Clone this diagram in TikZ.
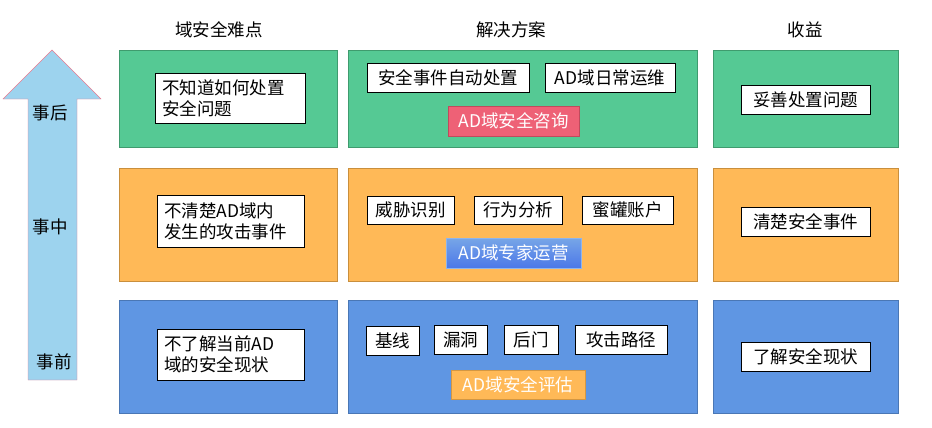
\documentclass[tikz,border=0pt]{standalone}
\usepackage{fontspec}
\setmainfont{Noto Sans CJK SC}
\definecolor{gruen}{HTML}{55C994}
\definecolor{gruenrand}{HTML}{3F9B6E}
\definecolor{orange}{HTML}{FFB957}
\definecolor{orangerand}{HTML}{C98F3D}
\definecolor{blau}{HTML}{5F96E3}
\definecolor{blaurand}{HTML}{4A77B5}
\definecolor{pfeil}{HTML}{9DD3EE}
\definecolor{pfeilrand}{HTML}{E87A8F}
\definecolor{rot}{HTML}{EE6176}
\definecolor{rotrand}{HTML}{C04A5C}
\begin{document}
\begin{tikzpicture}[x=1pt, y=-1pt,
	schrift/.style={font=\fontsize{17.5}{21}\selectfont},
	feld/.style={draw, inner sep=0pt},
	kasten/.style={schrift, draw=black, fill=white, inner sep=0pt},
	marke/.style={schrift, text=white, inner sep=0pt}]
		\useasboundingbox (0,0) rectangle (932,428);
		% Pfeil
		\draw[pfeilrand, fill=pfeil] (52,50) -- (101,99) -- (77,99) -- (77,380)
			-- (28,380) -- (28,99) -- (3,99) -- cycle;
		\node[schrift] (nach) at (50,113) {事后};
		\node[schrift] (waehrend) at (50,227) {事中};
		\node[schrift] (vor) at (54,362) {事前};
		% Kopfzeile
		\node[schrift] (schwierig) at (219,30) {域安全难点};
		\node[schrift] (loesung) at (511,30) {解决方案};
		\node[schrift] (nutzen) at (805,30) {收益};
		% Zeile 1
		\node[feld, draw=gruenrand, fill=gruen, minimum width=218, minimum height=97] (s1) at (228,98.5) {};
		\node[feld, draw=gruenrand, fill=gruen, minimum width=349, minimum height=97] (l1) at (522.5,98.5) {};
		\node[feld, draw=gruenrand, fill=gruen, minimum width=185, minimum height=97] (n1) at (805.5,98.5) {};
		\node[kasten, minimum width=150, minimum height=50, text width=136, align=left] (s1a) at (230,98) {不知道如何处置\\安全问题};
		\node[kasten, minimum width=162, minimum height=29] (l1a) at (448,77.5) {安全事件自动处置};
		\node[kasten, minimum width=130, minimum height=29] (l1b) at (610,77.5) {AD域日常运维};
		\node[marke, draw=rotrand, fill=rot, minimum width=131, minimum height=30] (l1c) at (513.5,121) {AD域安全咨询};
		\node[kasten, minimum width=129, minimum height=29] (n1a) at (805.5,99.5) {妥善处置问题};
		% Zeile 2
		\node[feld, draw=orangerand, fill=orange, minimum width=218, minimum height=113] (s2) at (228,224.5) {};
		\node[feld, draw=orangerand, fill=orange, minimum width=349, minimum height=113] (l2) at (522.5,224.5) {};
		\node[feld, draw=orangerand, fill=orange, minimum width=185, minimum height=113] (n2) at (805.5,224.5) {};
		\node[kasten, minimum width=147, minimum height=52, text width=133, align=left] (s2a) at (230.5,221) {不清楚AD域内\\发生的攻击事件};
		\node[kasten, minimum width=87, minimum height=28] (l2a) at (410.5,210) {威胁识别};
		\node[kasten, minimum width=88, minimum height=28] (l2b) at (518,210) {行为分析};
		\node[kasten, minimum width=91, minimum height=28] (l2c) at (627.5,210) {蜜罐账户};
		\node[marke, draw=blau!70!white, top color=blau!85!white, bottom color=blau!80!blue, minimum width=135, minimum height=30] (l2d) at (513.5,253) {AD域专家运营};
		\node[kasten, minimum width=129, minimum height=29] (n2a) at (805.5,221.5) {清楚安全事件};
		% Zeile 3
		\node[feld, draw=blaurand, fill=blau, minimum width=218, minimum height=113] (s3) at (228,356.5) {};
		\node[feld, draw=blaurand, fill=blau, minimum width=349, minimum height=113] (l3) at (522.5,356.5) {};
		\node[feld, draw=blaurand, fill=blau, minimum width=185, minimum height=113] (n3) at (805.5,356.5) {};
		\node[kasten, minimum width=147, minimum height=51, text width=133, align=left] (s3a) at (230.5,354.5) {不了解当前AD\\域的安全现状};
		\node[kasten, minimum width=53, minimum height=29] (l3a) at (392.5,340.5) {基线};
		\node[kasten, minimum width=53, minimum height=29] (l3b) at (460.5,339.5) {漏洞};
		\node[kasten, minimum width=54, minimum height=29] (l3c) at (531,339.5) {后门};
		\node[kasten, minimum width=92, minimum height=29] (l3d) at (621,339.5) {攻击路径};
		\node[marke, draw=orangerand!80!orange, fill=orange, minimum width=134, minimum height=29] (l3e) at (518,384.5) {AD域安全评估};
		\node[kasten, minimum width=129, minimum height=29] (n3a) at (805.5,356.5) {了解安全现状};
	\end{tikzpicture}
\end{document}
